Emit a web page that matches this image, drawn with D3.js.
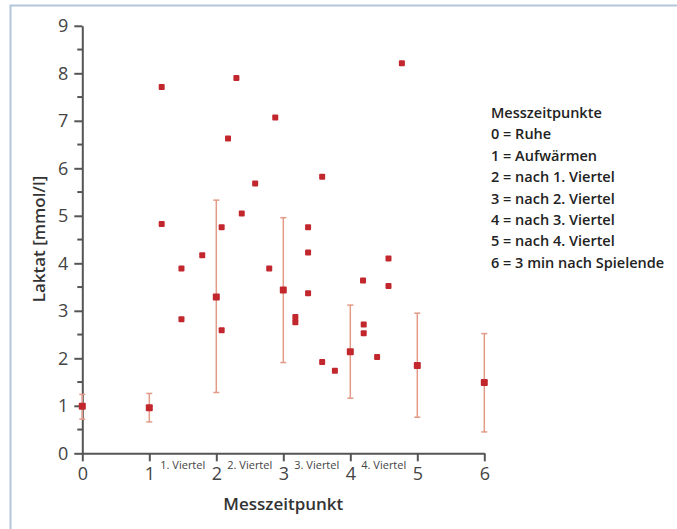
<!DOCTYPE html>
<html lang="de">
  <head>
    <title>Laktat</title>
    <script src="https://d3js.org/d3.v7.min.js"></script>
    <style>
      body { margin: 0; background: #fff; }
      text { font-family: "Open Sans", "Noto Sans", sans-serif; }
      .axis path, .axis line { stroke: #555; stroke-width: 2; }
      .axis text { fill: #444; font-size: 18px; }
    </style>
  </head>
  <body>
    <svg width="677" height="529"></svg>
    <script>
      // Mittelwerte mit Streuung je Messzeitpunkt
      var meanX = [0, 1, 2, 3, 4, 5, 6];
      var meanY = [0.99, 0.96, 3.29, 3.44, 2.14, 1.85, 1.49];
      var errLow = [0.72, 0.66, 1.28, 1.91, 1.16, 0.76, 0.45];
      var errHigh = [1.24, 1.26, 5.33, 4.96, 3.12, 2.95, 2.52];

      // Einzelwerte der Spieler
      var pointX = [1.185, 1.185, 1.48, 1.48, 1.79, 2.08, 2.08, 2.175, 2.3, 2.38, 2.58, 2.79, 2.88,
                    3.18, 3.18, 3.37, 3.37, 3.37, 3.58, 3.58, 3.77,
                    4.19, 4.2, 4.2, 4.4, 4.57, 4.57, 4.77];
      var pointY = [7.71, 4.83, 3.89, 2.82, 4.17, 2.59, 4.76, 6.63, 7.9, 5.05, 5.68, 3.89, 7.07,
                    2.87, 2.76, 4.76, 4.23, 3.37, 5.82, 1.92, 1.74,
                    3.64, 2.71, 2.53, 2.03, 4.1, 3.52, 8.21];

      var xTicks = [0, 1, 2, 3, 4, 5, 6];
      var yTicks = [0, 1, 2, 3, 4, 5, 6, 7, 8, 9];
      var yMinor = [0.5, 1.5, 2.5, 3.5, 4.5, 5.5, 6.5, 7.5, 8.5];
      var quarterX = [1.5, 2.5, 3.5, 4.5];
      var quarterLabels = ["1. Viertel", "2. Viertel", "3. Viertel", "4. Viertel"];
      var legendLines = ["Messzeitpunkte", "0 = Ruhe", "1 = Aufwärmen", "2 = nach 1. Viertel",
                         "3 = nach 2. Viertel", "4 = nach 3. Viertel", "5 = nach 4. Viertel",
                         "6 = 3 min nach Spielende"];

      var svg = d3.select("svg");

      // Rahmen oben und links
      svg.append("path").attr("d", "M10.5,529 V5.5 H677")
         .attr("fill", "none").attr("stroke", "#b3c6dc").attr("stroke-width", 2);

      var x = d3.scaleLinear().domain([0, 6]).range([82.3, 484.3]);
      var y = d3.scaleLinear().domain([0, 9]).range([453.3, 25.8]);

      // y-Achse
      var gy = svg.append("g").attr("class", "axis")
                  .attr("transform", "translate(" + x(0) + ",0)")
                  .call(d3.axisLeft(y).tickValues(yTicks).tickFormat(d3.format("d"))
                          .tickSize(8).tickSizeOuter(0).tickPadding(6));
      gy.selectAll(".minor").data(yMinor).enter().append("line")
        .attr("class", "minor")
        .attr("x1", -5).attr("x2", 0)
        .attr("y1", function(d){ return y(d); })
        .attr("y2", function(d){ return y(d); });

      // x-Achse
      svg.append("g").attr("class", "axis")
         .attr("transform", "translate(0," + y(0) + ")")
         .call(d3.axisBottom(x).tickValues(xTicks).tickFormat(d3.format("d"))
                 .tickSize(8).tickSizeOuter(0).tickPadding(6));

      svg.selectAll(".quarter").data(quarterX).enter().append("text")
         .attr("class", "quarter")
         .attr("x", function(d){ return x(d); })
         .attr("y", 469)
         .attr("text-anchor", "middle")
         .attr("font-size", 11)
         .attr("fill", "#444")
         .text(function(d, i){ return quarterLabels[i]; });

      // Achsentitel
      svg.append("text").attr("x", x(3)).attr("y", 510)
         .attr("text-anchor", "middle").attr("font-size", 17).attr("font-weight", 600)
         .attr("fill", "#333").text("Messzeitpunkt");
      svg.append("text").attr("transform", "translate(45,239) rotate(-90)")
         .attr("text-anchor", "middle").attr("font-size", 17).attr("font-weight", 600)
         .attr("fill", "#333").text("Laktat [mmol/l]");

      // Fehlerbalken
      var bars = svg.append("g").attr("stroke", "#e39a86").attr("stroke-width", 1.5);
      bars.selectAll(".err").data(meanX).enter().append("line")
          .attr("x1", function(d){ return x(d); }).attr("x2", function(d){ return x(d); })
          .attr("y1", function(d, i){ return y(errLow[i]); })
          .attr("y2", function(d, i){ return y(errHigh[i]); });
      bars.selectAll(".capLow").data(meanX).enter().append("line")
          .attr("x1", function(d){ return x(d) - 3; }).attr("x2", function(d){ return x(d) + 3; })
          .attr("y1", function(d, i){ return y(errLow[i]); })
          .attr("y2", function(d, i){ return y(errLow[i]); });
      bars.selectAll(".capHigh").data(meanX).enter().append("line")
          .attr("x1", function(d){ return x(d) - 3; }).attr("x2", function(d){ return x(d) + 3; })
          .attr("y1", function(d, i){ return y(errHigh[i]); })
          .attr("y2", function(d, i){ return y(errHigh[i]); });

      // Punkte
      svg.append("g").selectAll("rect").data(pointX).enter().append("rect")
         .attr("x", function(d){ return x(d) - 3; })
         .attr("y", function(d, i){ return y(pointY[i]) - 3; })
         .attr("width", 6).attr("height", 6).attr("rx", 1)
         .attr("fill", "#c1272d");
      svg.append("g").selectAll("rect").data(meanX).enter().append("rect")
         .attr("x", function(d){ return x(d) - 3.5; })
         .attr("y", function(d, i){ return y(meanY[i]) - 3.5; })
         .attr("width", 7).attr("height", 7).attr("rx", 1)
         .attr("fill", "#c1272d");

      // Legende
      svg.append("g").selectAll("text").data(legendLines).enter().append("text")
         .attr("x", 491)
         .attr("y", function(d, i){ return 118 + i * 21.4; })
         .attr("font-size", 14.5).attr("font-weight", 600)
         .attr("fill", "#222")
         .text(function(d){ return d; });
    </script>
  </body>
</html>
